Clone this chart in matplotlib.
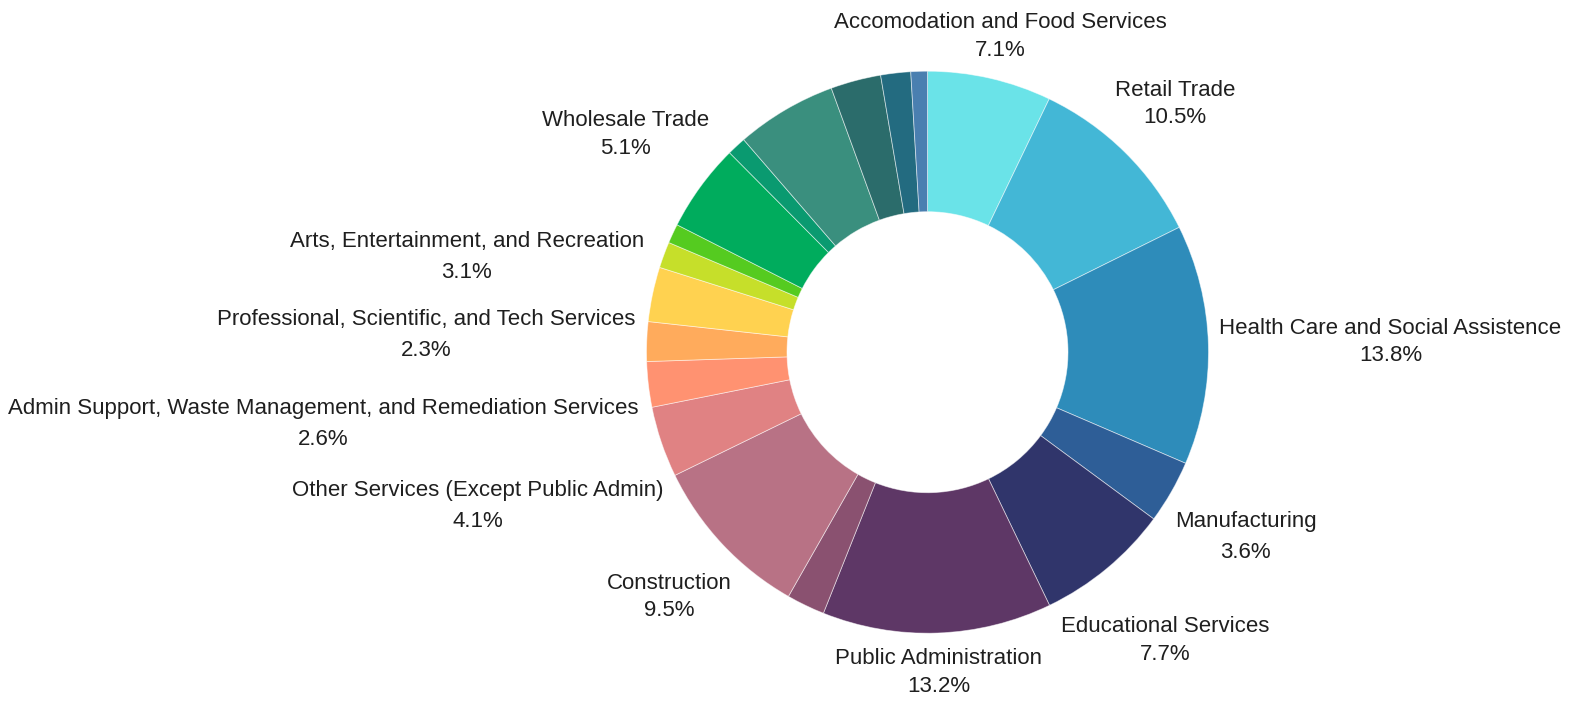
import numpy as np
import matplotlib
matplotlib.use("Agg")
import matplotlib.pyplot as plt

plt.rcParams['font.family'] = ['Liberation Sans', 'DejaVu Sans']

# ---------------- data (clockwise from 12 o'clock) ----------------
categories = [
    "Accomodation and Food Services",
    "Retail Trade",
    "Health Care and Social Assistence",
    "Manufacturing",
    "Educational Services",
    "Public Administration",
    None,
    "Construction",
    "Other Services (Except Public Admin)",
    "Admin Support, Waste Management, and Remediation Services",
    "Professional, Scientific, and Tech Services",
    "Arts, Entertainment, and Recreation",
    None,
    None,
    "Wholesale Trade",
    None,
    None,
    None,
    None,
    None,
]
shares = [7.13, 10.54, 13.80, 3.64, 7.74, 13.19, 2.20, 9.54, 4.08, 2.61,
          2.27, 3.14, 1.50, 1.11, 5.07, 1.09, 5.79, 2.89, 1.72, 0.95]
colors = ['#6ae3e8', '#43b7d6', '#2e8cba', '#2e5e97', '#30356b', '#5e3766',
          '#8a5170', '#b87285', '#e08283', '#ff9271', '#ffab5c', '#ffd250',
          '#c6df2a', '#55cb20', '#00ac5d', '#0a9a70', '#3a8f7e', '#2b6c6b',
          '#236b80', '#4a7fb0']

# ---------------- layout ----------------
W, H, DPI = 1569, 701, 100
CX, CY = 927.5, 352.2          # pie centre in pixels (from top-left)
R = 281.0                      # outer radius in pixels
HOLE = 0.5                     # ring width as fraction of radius
FS = 16                        # label font size (pt)
GAP = 1.039                    # label clearance (fraction of radius)
TEXT_COLOR = '#1f1f1f'

fig = plt.figure(figsize=(W / DPI, H / DPI), dpi=DPI)
fig.patch.set_facecolor('white')
ax = fig.add_axes([(CX - R) / W, (H - CY - R) / H, 2 * R / W, 2 * R / H])

wedges, _ = ax.pie(shares, colors=colors, startangle=90, counterclock=False,
                   radius=1.0,
                   wedgeprops=dict(width=HOLE, edgecolor=(1, 1, 1, 0.55),
                                   linewidth=0.6))
ax.set_xlim(-1, 1)
ax.set_ylim(-1, 1)
ax.set_aspect('equal')
ax.axis('off')

total = float(sum(shares))
fs_px = FS * DPI / 72.0
ascent = 0.905 * fs_px
descent = 0.212 * fs_px

renderer = fig.canvas.get_renderer()

for wedge, name, val in zip(wedges, categories, shares):
    if not name:
        continue
    pct = f"{val / total * 100:.1f}%"
    # baseline spacing between the name line and the percentage line
    spacing = 27.7 + (3.1 if any(c in name for c in ",gjpqy()") else 0.0)

    t1 = ax.text(0, 0, name, ha='center', va='baseline', fontsize=FS,
                 color=TEXT_COLOR)
    t2 = ax.text(0, -spacing / R, pct, ha='center', va='baseline',
                 fontsize=FS, color=TEXT_COLOR)
    w_px = max(t1.get_window_extent(renderer).width,
               t2.get_window_extent(renderer).width)

    top = ascent / R
    bottom = -(spacing + descent) / R
    yc_off = (top + bottom) / 2.0
    a = w_px / 2.0 / R
    b = (top - bottom) / 2.0

    mid = np.deg2rad((wedge.theta1 + wedge.theta2) / 2.0)
    ux, uy = np.cos(mid), np.sin(mid)

    def dist(t):
        cx, cy = t * ux, t * uy
        dx = max(abs(cx) - a, 0.0)
        dy = max(abs(cy) - b, 0.0)
        return np.hypot(dx, dy)

    lo, hi = 0.0, 6.0
    for _ in range(60):
        m = (lo + hi) / 2.0
        if dist(m) < GAP:
            lo = m
        else:
            hi = m
    cx, cy = hi * ux, hi * uy
    t1.set_position((cx, cy - yc_off))
    t2.set_position((cx, cy - yc_off - spacing / R))
    t1.set_clip_on(False)
    t2.set_clip_on(False)

fig.savefig('out.png', dpi=DPI, facecolor='white')
